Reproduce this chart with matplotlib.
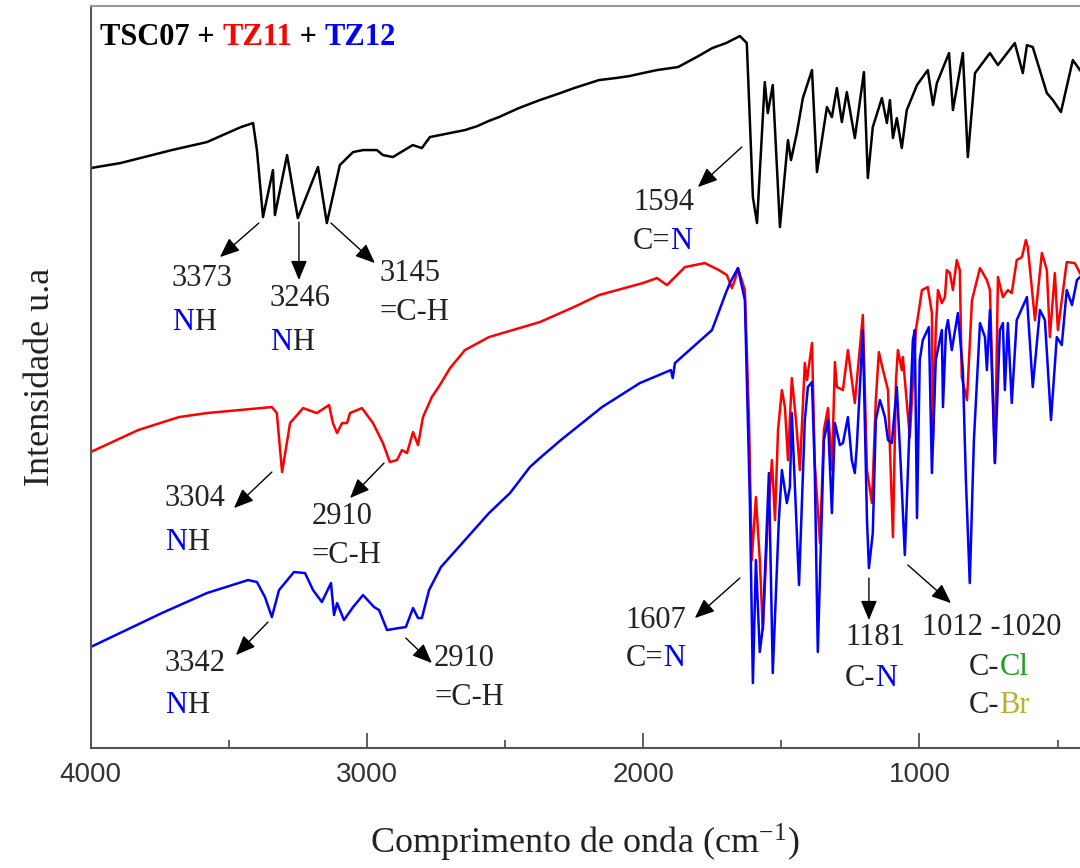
import matplotlib
matplotlib.use('Agg')
import matplotlib.pyplot as plt
from matplotlib.ticker import MultipleLocator

plt.rcParams['font.family'] = 'Liberation Sans'
plt.rcParams['mathtext.fontset'] = 'stix'
SERIF = 'Liberation Serif'

# FTIR spectra: wavenumber (cm-1) and intensity (a.u.)
tsc07_wn = [4000, 3892, 3706, 3579, 3456, 3412, 3398, 3376, 3340, 3333,
            3289, 3250, 3177, 3145, 3098, 3050, 3014, 2964, 2942, 2906,
            2834, 2801, 2772, 2645, 2600, 2560, 2522, 2450, 2374, 2300,
            2250, 2160, 2100, 2050, 2001, 1950, 1874, 1800, 1750, 1700,
            1650, 1625, 1603, 1588, 1560, 1549, 1531, 1505, 1476, 1465,
            1444, 1422, 1389, 1371, 1335, 1317, 1299, 1281, 1263, 1234,
            1201, 1187, 1169, 1136, 1118, 1107, 1096, 1082, 1064, 1046,
            1009, 970, 951, 937, 893, 879, 843, 825, 799, 745,
            716, 655, 626, 611, 590, 539, 517, 488, 445, 419]
tsc07_int = [580, 585, 598, 606, 621, 625, 598, 531, 578, 533,
             593, 530, 581, 525, 583, 596, 598, 598, 593, 591,
             603, 600, 611, 618, 622, 627, 631, 640, 648, 655,
             660, 668, 670, 672, 675, 678, 681, 692, 700, 705,
             712, 705, 551, 525, 666, 635, 663, 521, 608, 588,
             615, 650, 678, 576, 641, 631, 660, 626, 656, 610,
             676, 570, 621, 650, 625, 648, 610, 630, 600, 638,
             663, 678, 643, 665, 695, 638, 695, 591, 675, 695,
             683, 705, 675, 703, 701, 655, 648, 636, 688, 678]

tz11_wn = [4000, 3828, 3680, 3579, 3344, 3326, 3307, 3278, 3231, 3181,
           3137, 3123, 3108, 3090, 3072, 3061, 3018, 2978, 2942, 2917,
           2891, 2873, 2855, 2833, 2815, 2797, 2765, 2736, 2699, 2645,
           2558, 2374, 2251, 2160, 2001, 1950, 1914, 1849, 1777, 1726,
           1697, 1679, 1668, 1657, 1632, 1617, 1607, 1592, 1578, 1567,
           1549, 1534, 1523, 1512, 1498, 1487, 1476, 1462, 1447, 1433,
           1415, 1407, 1389, 1379, 1360, 1346, 1331, 1317, 1306, 1299,
           1277, 1259, 1234, 1205, 1190, 1172, 1158, 1147, 1132, 1114,
           1096, 1085, 1078, 1064, 1060, 1035, 1013, 991, 970, 955,
           951, 941, 933, 919, 908, 901, 890, 879, 865, 854,
           847, 828, 810, 781, 756, 745, 727, 716, 698, 680,
           666, 648, 629, 615, 608, 582, 557, 539, 528, 510,
           499, 467, 438, 419]
tz11_int = [296, 318, 331, 335, 341, 335, 276, 325, 340, 335,
            343, 325, 315, 325, 325, 335, 340, 325, 305, 286,
            288, 298, 295, 316, 303, 331, 351, 363, 380, 398,
            411, 426, 441, 453, 465, 470, 463, 481, 485, 478,
            473, 460, 468, 480, 458, 328, 188, 251, 188, 118,
            228, 288, 228, 318, 358, 341, 288, 370, 328, 278,
            385, 368, 405, 285, 205, 318, 340, 278, 386, 361,
            358, 398, 345, 433, 278, 245, 348, 396, 378, 358,
            211, 368, 398, 378, 391, 311, 418, 458, 461, 435,
            308, 418, 458, 445, 451, 478, 475, 458, 488, 478,
            371, 348, 448, 480, 468, 458, 285, 471, 451, 458,
            455, 488, 491, 508, 501, 428, 495, 478, 411, 475,
            418, 486, 485, 475]

tz12_wn = [4000, 3742, 3579, 3430, 3398, 3369, 3344, 3318, 3264, 3224,
           3195, 3163, 3130, 3119, 3108, 3083, 3050, 3014, 2974, 2956,
           2927, 2884, 2859, 2833, 2815, 2801, 2775, 2732, 2645, 2558,
           2482, 2410, 2374, 2298, 2149, 2012, 1900, 1893, 1885, 1751,
           1701, 1686, 1657, 1632, 1614, 1603, 1592, 1578, 1567, 1545,
           1531, 1509, 1498, 1480, 1469, 1462, 1436, 1415, 1404, 1389,
           1379, 1368, 1346, 1331, 1317, 1306, 1288, 1277, 1259, 1245,
           1234, 1227, 1205, 1190, 1183, 1169, 1158, 1143, 1125, 1114,
           1100, 1082, 1067, 1053, 1035, 1024, 1017, 1009, 999, 988,
           966, 955, 941, 919, 915, 904, 897, 883, 861, 843,
           832, 818, 803, 781, 763, 756, 745, 727, 709, 698,
           691, 680, 666, 648, 611, 590, 564, 546, 524, 503,
           485, 467, 448, 430, 419]
tz12_int = [101, 135, 155, 168, 166, 151, 131, 158, 176, 175,
            158, 146, 165, 133, 145, 128, 141, 153, 141, 138,
            118, 120, 121, 140, 130, 130, 158, 181, 208, 235,
            255, 281, 290, 308, 341, 365, 378, 370, 385, 418,
            455, 465, 480, 448, 248, 65, 188, 96, 121, 275,
            75, 228, 278, 245, 261, 335, 163, 328, 361, 366,
            278, 96, 308, 328, 235, 325, 303, 305, 331, 288,
            275, 301, 418, 228, 180, 215, 328, 348, 331, 308,
            305, 361, 278, 193, 328, 408, 418, 230, 388, 408,
            421, 275, 388, 418, 341, 418, 428, 398, 435, 378,
            268, 165, 308, 425, 411, 378, 438, 285, 418, 425,
            358, 425, 345, 428, 451, 361, 438, 428, 328, 411,
            403, 458, 443, 468, 471]

BLUE = '#0000ff'
RED = '#ff0000'

fig = plt.figure(figsize=(10.8, 8.68), dpi=100)
ax = fig.add_axes([0.0839, 0.1382, 0.9161, 0.8548])

ax.plot(tsc07_wn, tsc07_int, color='black', lw=1.8)
ax.plot(tz11_wn, tz11_int, color=RED, lw=1.8)
ax.plot(tz12_wn, tz12_int, color=BLUE, lw=1.8)

ax.set_xlim(4000, 419)
ax.set_ylim(0, 742)
ax.set_yticks([])
ax.xaxis.set_major_locator(MultipleLocator(1000))
ax.xaxis.set_minor_locator(MultipleLocator(500))
ax.tick_params(axis='x', which='both', direction='in', colors='#555555',
               labelcolor='#333333', labelsize=20, pad=10, width=1.3)
ax.tick_params(axis='x', which='major', length=11)
ax.tick_params(axis='x', which='minor', length=6)

for side in ['left', 'bottom']:
    ax.spines[side].set_color('#555555')
    ax.spines[side].set_linewidth(1.5)
ax.spines['top'].set_color('#999999')
ax.spines['top'].set_linewidth(1.5)
ax.spines['right'].set_visible(False)

ax.set_xlabel('Comprimento de onda (cm$^{\\mathregular{-1}}$)', family=SERIF,
              fontsize=26, color='#222222', labelpad=24)
ax.set_ylabel('Intensidade u.a', family=SERIF, fontsize=26, color='#222222',
              labelpad=24)


def label(x, y, parts, size=22, weight='normal', coords='data'):
    # several coloured pieces written one after another on one line
    t = ax.text(x, y, parts[0][0], color=parts[0][1], fontsize=size,
                family=SERIF, weight=weight, va='center', ha='left',
                transform=ax.transAxes if coords == 'axes' else ax.transData)
    for s, c in parts[1:]:
        t = ax.annotate(s, xy=(1, 0), xycoords=t, color=c, fontsize=size,
                        family=SERIF, weight=weight, va='bottom', ha='left')


def arrow(start, end):
    ax.annotate('', xy=end, xytext=start,
                arrowprops=dict(arrowstyle='-|>,head_length=0.6,head_width=0.25',
                                color='black', lw=1, mutation_scale=20,
                                shrinkA=0, shrinkB=0))


label(0.0095, 0.958, [('TSC07 + ', 'black'), ('TZ11', RED), (' + ', 'black'),
                      ('TZ12', BLUE)], size=22, weight='bold', coords='axes')

# TSC07
arrow((3391, 525), (3532, 491))
label(3706, 470, [('3373', '#222222')])
label(3706, 426, [('N', BLUE), ('H', '#222222')])
arrow((3246, 526), (3246, 468))
label(3351, 450, [('3246', '#222222')])
label(3351, 406, [('N', BLUE), ('H', '#222222')])
arrow((3130, 525), (2971, 485))
label(2953, 475, [('3145', '#222222')])
label(2953, 436, [('=C-H', '#222222')])
arrow((1643, 601), (1802, 561))
label(2037, 546, [('1594', '#222222')])
label(2037, 507, [('C=', '#222222'), ('N', BLUE)])

# TZ11
arrow((3344, 276), (3481, 240))
label(3731, 250, [('3304', '#222222')])
label(3731, 206, [('N', BLUE), ('H', '#222222')])
arrow((2938, 285), (3061, 250))
label(3199, 232, [('2910', '#222222')])
label(3199, 193, [('=C-H', '#222222')])

# TZ12
arrow((3358, 126), (3474, 93))
label(3731, 85, [('3342', '#222222')])
label(3731, 43, [('N', BLUE), ('H', '#222222')])
arrow((2859, 110), (2765, 85))
label(2757, 90, [('2910', '#222222')])
label(2757, 51, [('=C-H', '#222222')])

# fingerprint region
arrow((1650, 170), (1813, 130))
label(2063, 128, [('1607', '#222222')])
label(2063, 90, [('C=', '#222222'), ('N', BLUE)])
arrow((1183, 170), (1183, 128))
label(1270, 111, [('1181', '#222222')])
label(1270, 70, [('C-', '#222222'), ('N', BLUE)])
arrow((1042, 183), (886, 145))
label(991, 121, [('1012 -1020', '#222222')])
label(821, 81, [('C-', '#222222'), ('Cl', '#1f9f1f')])
label(821, 43, [('C-', '#222222'), ('Br', '#b8b030')])

plt.savefig('out.png', dpi=100)
